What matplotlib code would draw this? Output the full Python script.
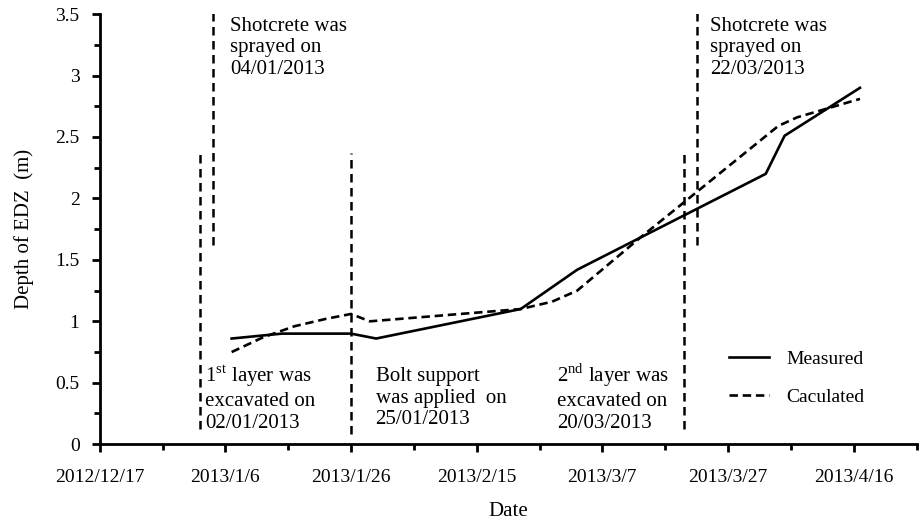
import datetime as dt
import numpy as np
import matplotlib
matplotlib.use("Agg")
import matplotlib.pyplot as plt
import matplotlib.dates as mdates
from matplotlib.ticker import FixedLocator, FuncFormatter, MultipleLocator

plt.rcParams['font.family'] = ['Liberation Serif', 'DejaVu Serif']
plt.rcParams['mathtext.fontset'] = 'custom'
plt.rcParams['mathtext.rm'] = 'Liberation Serif'

# measured EDZ depth
meas_dates = ['2013-01-07', '2013-01-15', '2013-01-26', '2013-01-30', '2013-02-22',
              '2013-03-03', '2013-04-02', '2013-04-05', '2013-04-17']
meas_depth = [0.86, 0.90, 0.90, 0.86, 1.10, 1.42, 2.20, 2.51, 2.90]

# calculated EDZ depth
calc_dates = ['2013-01-07', '2013-01-12', '2013-01-17', '2013-01-22', '2013-01-26',
              '2013-01-29', '2013-02-22', '2013-02-27', '2013-03-03', '2013-03-13',
              '2013-03-21', '2013-04-04', '2013-04-07', '2013-04-17']
calc_depth = [0.75, 0.87, 0.96, 1.02, 1.06, 1.00, 1.10, 1.16, 1.25, 1.68,
              2.01, 2.59, 2.66, 2.81]

# construction events: date, line bottom, line top
event_dates = ['2013-01-02', '2013-01-04', '2013-01-26', '2013-03-20', '2013-03-22']
event_lo = [0.12, 1.62, 0.08, 0.12, 1.62]
event_hi = [2.40, 3.52, 2.37, 2.40, 3.52]

start = dt.datetime(2012, 12, 17)
end = dt.datetime(2013, 4, 26)

def to_num(ds):
    return mdates.date2num([dt.datetime.strptime(d, '%Y-%m-%d') for d in ds])

fig = plt.figure(figsize=(9.23, 5.22), dpi=100)
ax = fig.add_axes([0.108, 0.149, 0.885, 0.824])

ax.plot(to_num(meas_dates), meas_depth, color='black', lw=1.9, label='Measured')
ax.plot(to_num(calc_dates), calc_depth, color='black', lw=1.9,
        linestyle=(0, (3.2, 1.8)), label='Caculated')

ev = to_num(event_dates)
for x, lo, hi in zip(ev, event_lo, event_hi):
    ax.plot([x, x], [lo, hi], color='black', lw=1.8, linestyle=(0, (3.4, 2.2)))

fs = 15
ls = 1.2
ax.text(ev[1] + 2.7, 3.48, 'Shotcrete was\nsprayed on\n04/01/2013', fontsize=fs,
        va='top', ha='left', linespacing=ls)
ax.text(ev[4] + 2.2, 3.48, 'Shotcrete was\nsprayed on\n22/03/2013', fontsize=fs,
        va='top', ha='left', linespacing=ls)
ax.text(ev[0] + 0.8, 0.66, '1$^{\\mathrm{st}}$ layer was\nexcavated on\n02/01/2013',
        fontsize=fs, va='top', ha='left', linespacing=ls)
ax.text(ev[2] + 3.9, 0.63, 'Bolt support\nwas applied  on\n25/01/2013', fontsize=fs,
        va='top', ha='left', linespacing=ls)
ax.text(ev[3] - 20.2, 0.67, '2$^{\\mathrm{nd}}$ layer was\nexcavated on\n20/03/2013',
        fontsize=fs, va='top', ha='left', linespacing=ls)

ax.set_xlim(mdates.date2num(start), mdates.date2num(end))
ax.set_ylim(0, 3.5)

major = [mdates.date2num(start + dt.timedelta(days=20 * i)) for i in range(7)]
minor = [mdates.date2num(start + dt.timedelta(days=10 * i)) for i in range(14)]
ax.xaxis.set_major_locator(FixedLocator(major))
ax.xaxis.set_minor_locator(FixedLocator(minor))

def date_label(v, pos):
    d = mdates.num2date(v)
    return f'{d.year}/{d.month}/{d.day}'

ax.xaxis.set_major_formatter(FuncFormatter(date_label))
ax.yaxis.set_major_locator(MultipleLocator(0.5))
ax.yaxis.set_minor_locator(MultipleLocator(0.25))
ax.yaxis.set_major_formatter(FuncFormatter(lambda v, p: f'{v:g}'))

for s in ['top', 'right']:
    ax.spines[s].set_visible(False)
for s in ['left', 'bottom']:
    ax.spines[s].set_linewidth(2.0)

ax.tick_params(which='major', direction='out', length=5.5, width=2, labelsize=14)
ax.tick_params(axis='x', which='major', pad=12)
ax.tick_params(axis='y', which='major', pad=9)
ax.tick_params(which='minor', direction='out', length=4, width=2)

ax.set_xlabel('Date', fontsize=15, labelpad=12)
ax.set_ylabel('Depth of EDZ  (m)', fontsize=15, labelpad=15)

ax.legend(loc='upper left', bbox_to_anchor=(0.770, 0.218), frameon=False, fontsize=14,
          handlelength=2.1, labelspacing=1.05, handletextpad=0.85,
          borderpad=0, borderaxespad=0)

fig.savefig('out.png', dpi=100)
